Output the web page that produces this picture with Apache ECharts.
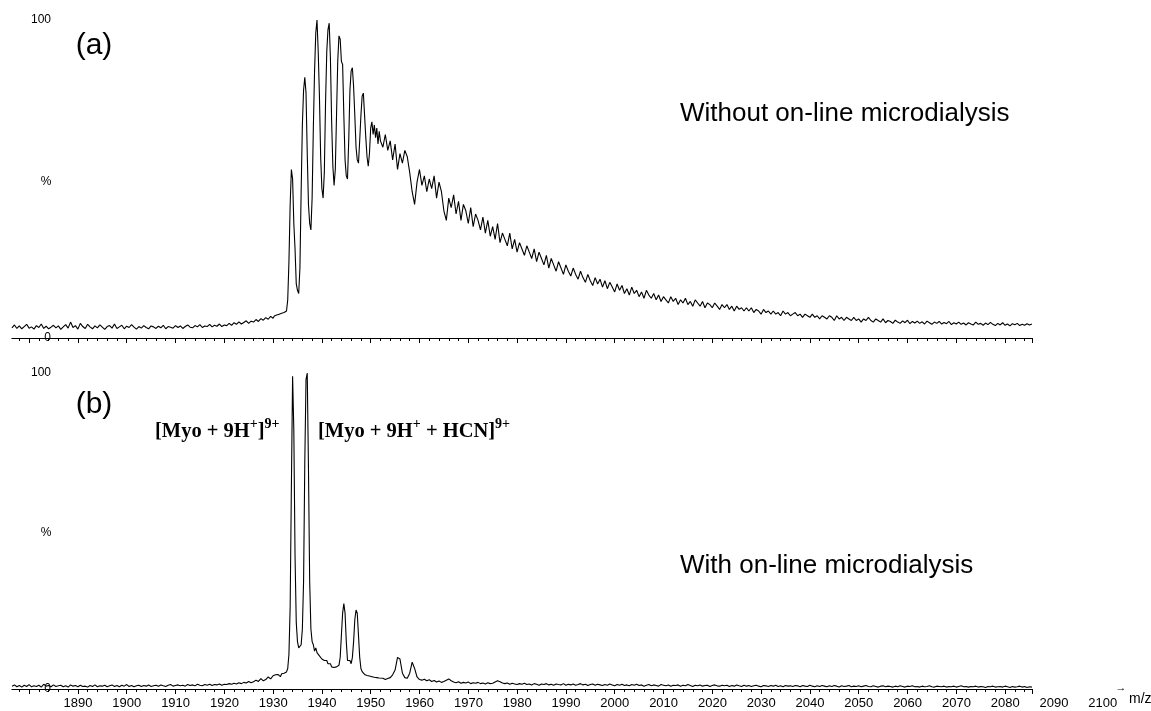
<!DOCTYPE html>
<html>
<head>
<meta charset="utf-8">
<script src="https://cdn.jsdelivr.net/npm/echarts@6/dist/echarts.min.js"></script>
<style>
html,body{margin:0;padding:0;background:#fff;}
#chart{width:1151px;height:711px;}
</style>
</head>
<body>
<div id="chart"></div>
<script>
// ---- data (relative intensity %) ----
// segments: [start m/z, step]
const segStart = [1876.5, 1930.25, 1952.5];
const segStep  = [0.5, 0.25, 0.5];

// (a) without on-line microdialysis
const topBase = [
3.2,4.1,3.0,3.8,2.9,3.6,4.3,3.1,3.5,2.8,
3.9,3.3,4.4,3.0,3.7,2.9,3.4,4.0,3.2,3.8,
2.7,3.5,4.2,3.1,5.0,3.3,3.9,2.8,4.6,3.6,
3.0,4.3,3.5,2.9,3.8,3.2,4.1,3.4,2.7,3.6,
3.9,3.1,4.4,3.0,3.5,4.0,2.9,3.7,3.3,4.2,
3.4,2.8,3.6,3.1,3.9,3.3,2.9,3.8,3.5,3.0,
3.7,3.2,4.0,2.9,3.6,3.4,3.1,3.9,3.3,3.8,
3.0,3.6,4.1,3.4,3.2,3.9,3.5,4.2,3.3,3.8,
3.6,4.3,3.5,4.0,3.7,4.4,3.6,4.1,3.9,4.6,
4.0,4.8,4.3,5.1,4.4,4.9,5.4,4.6,5.3,5.0,
5.8,5.2,6.1,5.6,6.4,5.9,6.8,6.2
];
const topPeaks = [
6.9,6.4,7.2,6.8,7.5,7.0,7.8,7.3,8.0,7.6,8.5,
12,24,42,53,50,36,28,17,15,14,22,46,67,78,82,77,58,42,36,34,
44,66,84,96,100,90,76,57,47,44,52,74,90,97,99,88,68,54,48,53,
70,87,95,94,87,86,70,56,51,50,62,78,84,85,79,70,60,56,55,62,
70,76,77,70,63,57,54,58,66,68,64,67,63,66,61,65,62
];
const topTail = [
60,64,59,62,56,61,53,58,55,59,
57,52,46,42,49,53,48,51,46,50,
47,51,44,49,46,40,37,44,41,45,
39,43,37,42,40,36,41,35,39,37,
34,38,33,37,32,35,31,36,30,33,
31,29,33,28,31,27,30,28,26,29,
27,25,28,24,27,25,23,26,22,25,
23,21,24,22,20,23,21,19.5,22,20,
18.5,21,19,17.5,20,18,16.5,19,17,18.5,
16,18,15.5,17.5,16,14.5,17,15,16.5,14,
15.5,13.5,16,14,15,13,14.5,12.5,15,13.5,
12.5,14,12,13.5,11.5,13,12,11,13,11.5,
12.5,10.5,12,11,12.5,10.5,11.5,10,12,11,
10,11.5,9.5,11,10.5,9.5,11,10,9,10.5,
9.5,10.5,9,10,8.5,10,9,9.5,8.5,9.5,
8.5,9.5,8,9,8.5,7.5,9,8,8.5,7.5,
8.5,7.5,8,7,8.5,7.5,8,7,7.5,8,
7,7.5,6.5,7.5,7,6.5,7.5,6.5,7,6,
7,6.5,6,7,6.5,5.5,7,6,6.5,5.5,
6.5,6,5.5,6.5,5.5,6,5,6,5.5,6.5,
5.5,5,6,5.5,5,6,4.8,5.5,5.2,4.6,
5.6,5,4.6,5.4,4.8,5.6,4.5,5.2,4.7,5.3,
4.6,5.1,4.4,5.3,4.8,4.3,5,4.6,5.2,4.4,
4.9,4.5,5.2,4.2,4.8,4.4,5,4.3,4.7,4.1,
4.8,4.4,4.1,5,4.3,4.6,4.0,4.7,4.2,4.9,
4.3,3.9,4.6,4.1,4.8,4.0,4.4,3.8,4.5,4.2,
4.6,3.9,4.3,4.0,4.5,4.1,4.4
];

// (b) with on-line microdialysis
const botBase = [
0.9,1.3,0.7,1.1,0.6,1.2,0.8,1.4,0.7,1.0,
0.8,1.2,0.6,1.5,0.9,1.1,0.7,1.3,0.8,1.0,
1.2,0.7,1.0,0.6,1.3,0.9,1.1,0.7,1.2,0.8,
0.9,0.6,1.1,0.8,1.3,0.7,1.0,0.9,1.2,0.7,
1.0,1.3,0.8,1.1,0.7,1.2,0.9,1.4,0.8,1.1,
0.7,1.0,1.2,0.8,1.1,0.9,1.3,0.8,1.0,1.2,
0.9,1.3,1.0,0.8,1.2,1.4,0.9,1.1,1.3,1.0,
1.2,0.9,1.4,1.1,1.3,1.0,1.5,1.2,1.0,1.4,
1.2,1.5,1.1,1.4,1.3,1.6,1.2,1.5,1.4,1.7,
1.5,1.8,1.6,2.0,1.7,2.1,1.9,2.4,2.0,2.3,
2.8,2.4,3.3,2.6,3.0,3.8,3.2,4.2
];
const botPeaks = [
3.8,4.5,4.0,4.6,4.2,3.9,4.8,4.4,5.0,4.7,5.4,
6.5,11,26,64,99,82,42,21,15,13,12.5,14,19,34,72,98,100,70,34,19,
15,14,12,13,11.5,12,10.5,11,9.5,10,9,8.5,9,8,7.5,8,7,7.5,6.8,6.5,
7,6.8,7.5,10,17,24,27,24,15,9,8.5,9,8,10,15,22,25,24,17,10,
6.5,5.5,5.2,4.6,4.8,4.3,4.6,4.1,4.4,3.9,4.2,3.7,4.0,3.6,3.8,3.5
];
const botTail = [
3.4,3.0,3.3,3.6,4.5,6,10,9.5,5,3.6,
3.4,5,8.5,6.5,3.8,3.0,2.8,3.1,2.6,2.9,
2.4,2.7,2.2,2.5,2.1,2.4,2.8,3.2,2.6,2.2,
2.0,2.3,1.8,2.1,1.9,2.2,1.7,2.0,1.8,2.1,
1.7,1.9,1.6,2.0,1.7,1.8,2.2,2.6,2.3,1.9,
1.7,1.9,1.5,1.8,1.6,1.4,1.7,1.5,1.8,1.4,
1.6,1.3,1.7,1.5,1.2,1.6,1.4,1.7,1.3,1.5,
1.2,1.6,1.4,1.3,1.7,1.2,1.5,1.3,1.6,1.2,
1.4,1.7,1.3,1.5,1.1,1.4,1.6,1.2,1.5,1.3,
1.1,1.4,1.2,1.6,1.3,1.0,1.4,1.2,1.5,1.1,
1.3,1.0,1.4,1.2,1.5,1.1,1.3,0.9,1.2,1.4,
1.0,1.3,1.1,0.9,1.4,1.2,1.0,1.3,0.9,1.2,
1.1,1.3,0.9,1.2,1.0,1.4,1.1,0.8,1.2,1.0,
1.3,0.9,1.1,1.2,0.8,1.1,1.3,1.0,0.9,1.2,
1.0,1.2,0.8,1.1,0.9,1.3,1.0,0.8,1.2,0.9,
1.1,0.8,1.0,1.2,0.9,0.7,1.1,1.0,0.8,1.1,
0.9,1.2,0.8,1.0,0.7,1.1,0.9,1.0,0.8,1.1,
1.0,0.7,1.1,0.9,0.8,1.2,0.9,0.7,1.0,0.8,
1.1,0.9,0.7,1.0,0.8,1.1,0.9,0.6,1.0,0.8,
0.9,1.1,0.7,0.9,0.8,1.0,0.7,0.9,1.1,0.8,
0.7,1.0,0.8,0.6,0.9,1.0,0.7,0.9,0.8,0.6,
0.9,0.7,1.0,0.8,0.6,0.9,0.8,1.0,0.7,0.8,
0.6,0.9,0.7,0.8,1.0,0.7,0.6,0.9,0.8,0.7,
0.9,0.6,0.8,0.7,0.9,0.6,0.8,1.0,0.7,0.8,
0.6,0.8,0.7,0.9,0.6,0.8,0.7,0.5,0.8,0.7,
0.9,0.6,0.7,0.8,0.6,0.9,0.7,0.5,0.8,0.6,
0.7,0.9,0.6,0.8,0.5,0.7,0.6
];

// axis ranges / ticks (m/z)
const xAxisMin = 1870, xAxisMax = 2085.5, xTickStep = 10;
const xLabelMin = 1890, xLabelMax = 2100;
const yTicks = [0, 100];

function toPairs(segs) {
  const out = [];
  segs.forEach((vals, k) => vals.forEach((v, i) => out.push([segStart[k] + i * segStep[k], v])));
  return out;
}
const topData = toPairs([topBase, topPeaks, topTail]);
const botData = toPairs([botBase, botPeaks, botTail]);

// ---- layout ----
const PX = 4.88;                    // px per m/z unit
const gridLeft = 12 - (1876.5 - xAxisMin) * PX;
const gridW = (xAxisMax - xAxisMin) * PX;
const FONT = '"Liberation Sans", Arial, sans-serif';
const SERIF = '"Liberation Serif", "Times New Roman", serif';

const chart = echarts.init(document.getElementById('chart'), null, {renderer: 'canvas'});

function dataXAxis(gi) {
  return {
    gridIndex: gi, type: 'value', min: xAxisMin, max: xAxisMax, interval: xTickStep,
    axisLine: {show: true, onZero: false, lineStyle: {color: '#000', width: 1}},
    axisTick: {show: true, length: 5, lineStyle: {color: '#000', width: 1}},
    minorTick: {show: true, splitNumber: 5, length: 3, lineStyle: {color: '#000', width: 1}},
    axisLabel: {show: false}, splitLine: {show: false}
  };
}
function dataYAxis(gi) {
  return {
    gridIndex: gi, type: 'value', min: yTicks[0], max: yTicks[1], interval: yTicks[1] - yTicks[0],
    axisLine: {show: false}, axisTick: {show: false}, splitLine: {show: false},
    axisLabel: {show: true, inside: true, align: 'right', margin: 51 - gridLeft,
      color: '#000', fontSize: 12, fontFamily: FONT}
  };
}

const supStyle = {fontSize: 14, fontWeight: 'bold', fontFamily: SERIF, verticalAlign: 'top', padding: [0, 0, 15, 0]};
const mainTok = {fontSize: 20.5, fontWeight: 'bold', fontFamily: SERIF, verticalAlign: 'middle'};

chart.setOption({
  animation: false,
  backgroundColor: '#fff',
  grid: [
    {left: gridLeft, width: gridW, top: 20, height: 318, outerBoundsMode: 'none', containLabel: false},
    {left: gridLeft, width: gridW, top: 373, height: 316, outerBoundsMode: 'none', containLabel: false},
    {left: 78, width: (xLabelMax - xLabelMin) * PX, top: 373, height: 316, outerBoundsMode: 'none', containLabel: false}
  ],
  xAxis: [
    dataXAxis(0),
    dataXAxis(1),
    {
      gridIndex: 2, type: 'value', min: xLabelMin, max: xLabelMax, interval: xTickStep,
      axisLine: {show: false}, axisTick: {show: false}, splitLine: {show: false},
      axisLabel: {show: true, margin: 8, color: '#000', fontSize: 13, fontFamily: FONT,
        showMinLabel: true, showMaxLabel: true, formatter: v => String(v)}
    }
  ],
  yAxis: [
    dataYAxis(0),
    dataYAxis(1),
    {gridIndex: 2, type: 'value', min: 0, max: 100, show: false}
  ],
  series: [
    {type: 'line', xAxisIndex: 0, yAxisIndex: 0, data: topData, showSymbol: false, symbol: 'none',
     lineStyle: {color: '#000', width: 1.1}, z: 3},
    {type: 'line', xAxisIndex: 1, yAxisIndex: 1, data: botData, showSymbol: false, symbol: 'none',
     lineStyle: {color: '#000', width: 1.1}, z: 3}
  ],
  graphic: [
    {type: 'rect', shape: {x: 0, y: 330, width: 11.5, height: 16}, style: {fill: '#fff'}, z: 100},
    {type: 'rect', shape: {x: 0, y: 681, width: 11.5, height: 16}, style: {fill: '#fff'}, z: 100},
    {type: 'text', z: 101, style: {text: '(a)', x: 94, y: 46, align: 'center', verticalAlign: 'middle', fontSize: 30, fontFamily: FONT, fill: '#000'}},
    {type: 'text', z: 101, style: {text: '(b)', x: 94, y: 405, align: 'center', verticalAlign: 'middle', fontSize: 30, fontFamily: FONT, fill: '#000'}},
    {type: 'text', z: 101, style: {text: '%', x: 46, y: 182, align: 'center', verticalAlign: 'middle', fontSize: 12, fontFamily: FONT, fill: '#000'}},
    {type: 'text', z: 101, style: {text: '%', x: 46, y: 533, align: 'center', verticalAlign: 'middle', fontSize: 12, fontFamily: FONT, fill: '#000'}},
    {type: 'text', z: 101, style: {text: 'Without on-line microdialysis', x: 680, y: 114, align: 'left', verticalAlign: 'middle', fontSize: 26, fontFamily: FONT, fill: '#000'}},
    {type: 'text', z: 101, style: {text: 'With on-line microdialysis', x: 680, y: 566, align: 'left', verticalAlign: 'middle', fontSize: 26, fontFamily: FONT, fill: '#000'}},
    {type: 'text', z: 101, style: {text: '{m|[Myo + 9H}{s|+}{m|]}{s|9+}', x: 155, y: 432, align: 'left', verticalAlign: 'middle', fill: '#000', rich: {m: mainTok, s: supStyle}}},
    {type: 'text', z: 101, style: {text: '{m|[Myo + 9H}{s|+}{m| + HCN]}{s|9+}', x: 318, y: 432, align: 'left', verticalAlign: 'middle', fill: '#000', rich: {m: mainTok, s: supStyle}}},
    {type: 'text', z: 101, style: {text: '→', x: 1121, y: 688, align: 'center', verticalAlign: 'middle', fontSize: 11, fontFamily: FONT, fill: '#000'}},
    {type: 'text', z: 101, style: {text: 'm/z', x: 1129, y: 699, align: 'left', verticalAlign: 'middle', fontSize: 14, fontFamily: FONT, fill: '#000'}}
  ]
});
</script>
</body>
</html>
